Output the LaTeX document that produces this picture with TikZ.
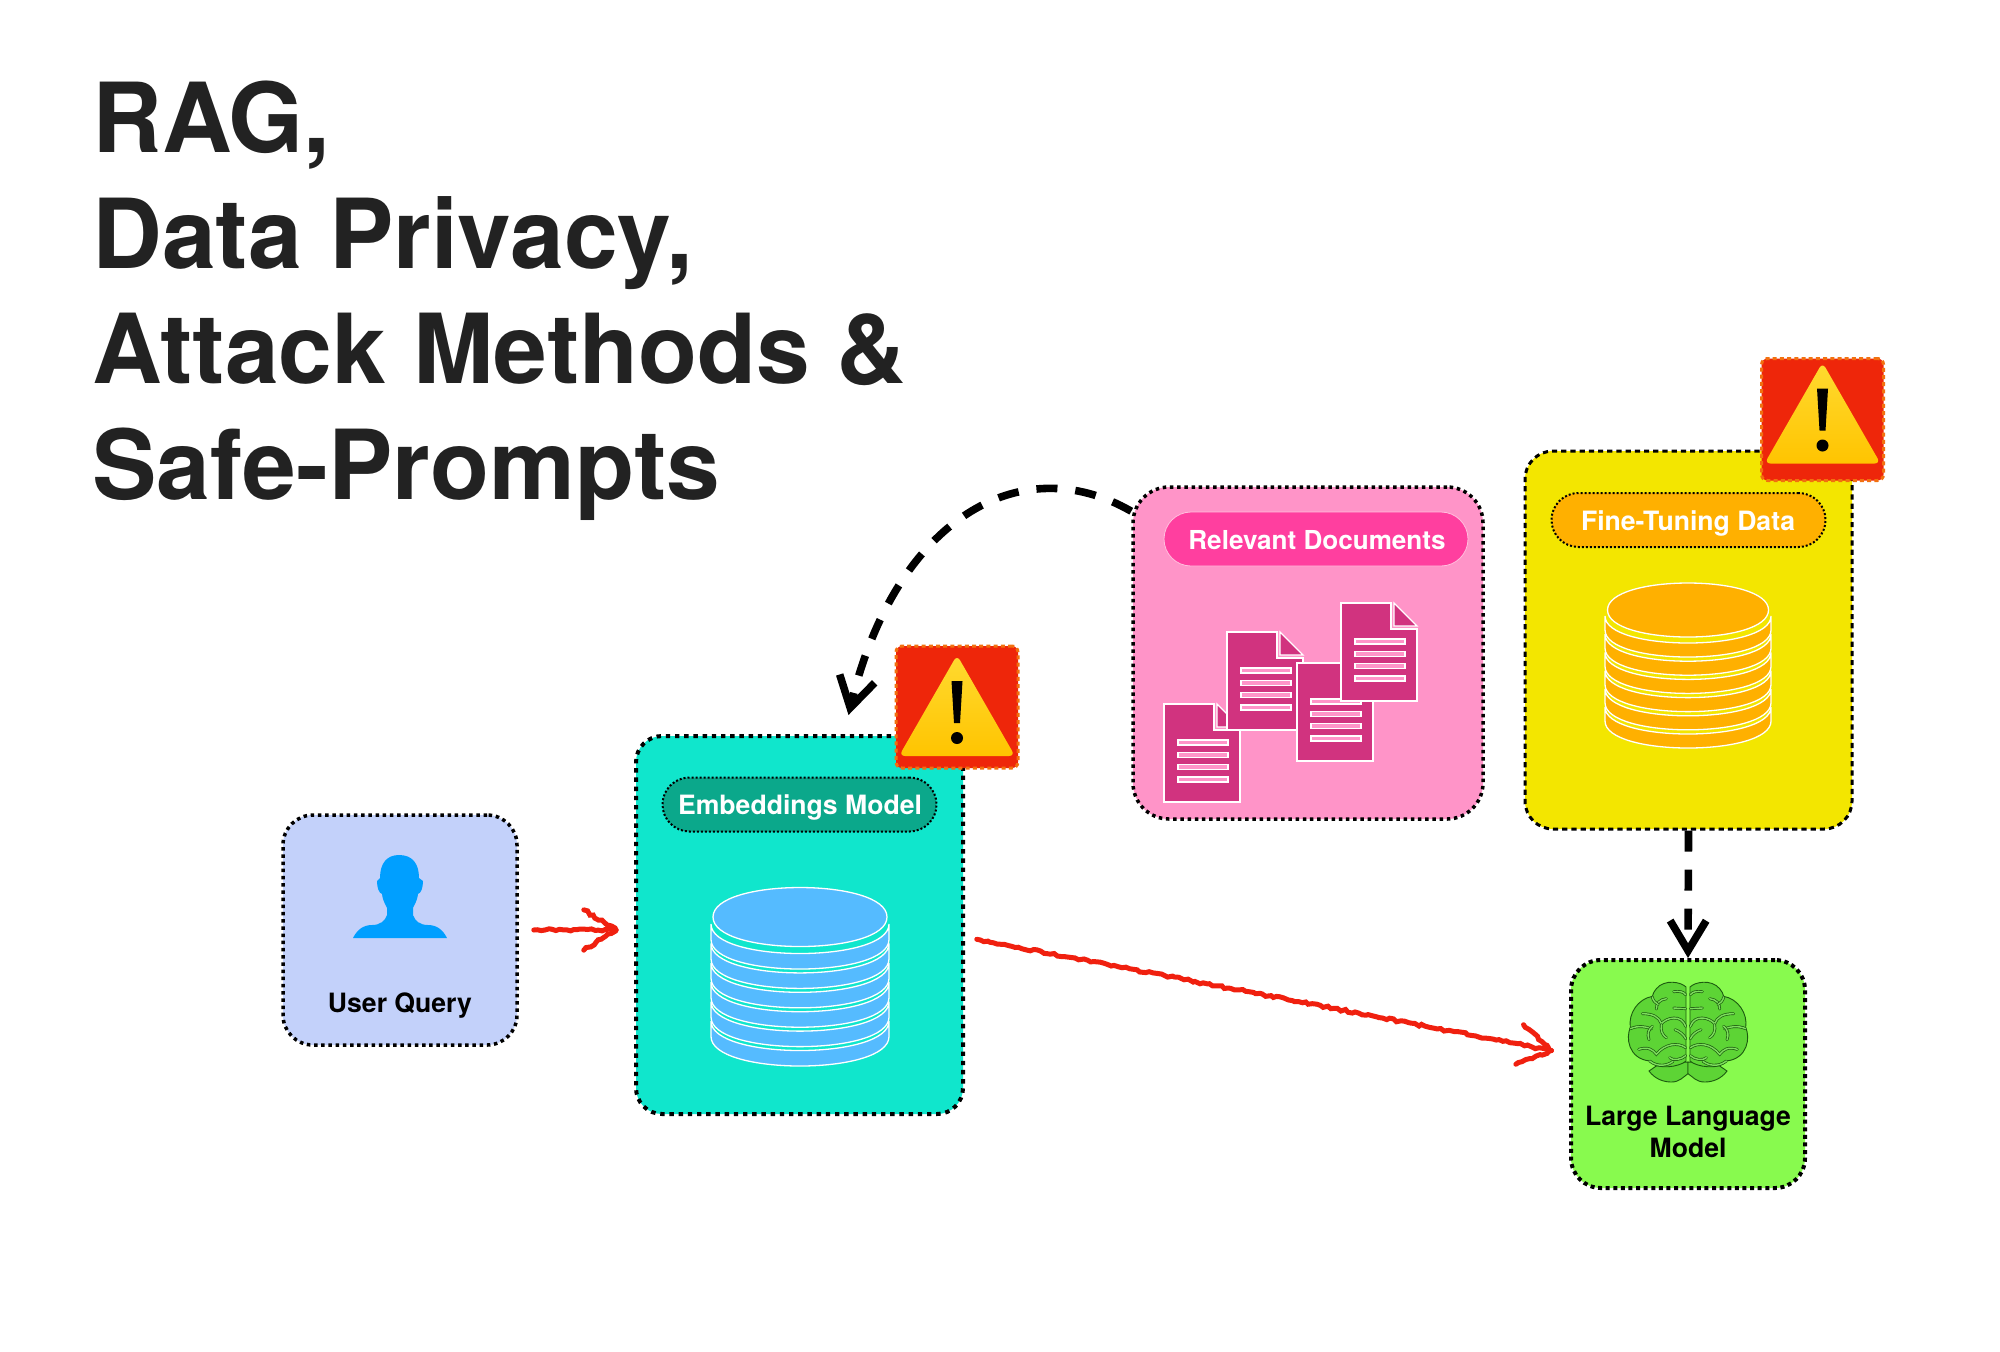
\documentclass[tikz,border=0pt]{standalone}
\usepackage{fontspec}
\setmainfont{TeX Gyre Heros}
\usetikzlibrary{arrows.meta,decorations.pathmorphing,calc}
\definecolor{inkc}{HTML}{222222}
\definecolor{userc}{HTML}{C3D1FA}
\definecolor{personc}{HTML}{009FFF}
\definecolor{embc}{HTML}{10E6CC}
\definecolor{embpill}{HTML}{0BA88B}
\definecolor{dbblue}{HTML}{55BBFF}
\definecolor{relc}{HTML}{FF94C8}
\definecolor{relpill}{HTML}{FF3F9F}
\definecolor{docc}{HTML}{D1337F}
\definecolor{yelc}{HTML}{F3E600}
\definecolor{orgc}{HTML}{FFB000}
\definecolor{llmc}{HTML}{88FA4E}
\definecolor{brainc}{HTML}{5DD435}
\definecolor{braind}{HTML}{1C5A10}
\definecolor{warnc}{HTML}{EE260A}
\definecolor{warnedge}{HTML}{F2700F}
\definecolor{warntop}{HTML}{FFDA30}
\definecolor{warnbot}{HTML}{FFC400}
\definecolor{arrred}{HTML}{F0200F}
\tikzset{
  x=0.5pt,y=-0.5pt,
  panel/.style={draw=black,line cap=butt,inner sep=0pt,rounded corners=14pt},
  dotfine/.style={panel,line width=1.75pt,dash pattern=on 1.75pt off 1.85pt},
  dotwide/.style={panel,line width=2pt,dash pattern=on 2.2pt off 2.4pt,rounded corners=13pt},
  dashfine/.style={panel,line width=1.5pt,dash pattern=on 2.6pt off 2pt},
  pillbox/.style={inner sep=0pt,rounded corners=13.5pt,minimum width=137pt,minimum height=27pt},
  pilldots/.style={pillbox,draw=black,line width=1pt,dash pattern=on 1pt off 1pt},
  pilltext/.style={anchor=base,inner sep=0pt,text=white,font=\fontsize{13.3}{16}\selectfont\bfseries},
  boxtext/.style={anchor=base,inner sep=0pt,text=black,align=center,font=\fontsize{13.3}{16}\selectfont\bfseries},
  warnbox/.style={fill=warnc,draw=warnedge,line width=1.5pt,dash pattern=on 2pt off 1.6pt,rounded corners=3pt,minimum width=61pt,minimum height=61pt,inner sep=0pt},
  blackflow/.style={draw=black,line width=3.8pt,line cap=butt,dash pattern=on 10.5pt off 9pt,
     -{Straight Barb[length=15pt,width=18pt,line width=3.8pt]}},
  redflow/.style={draw=arrred,line width=2.5pt,line cap=round,
     decorate,decoration={random steps,segment length=1.8pt,amplitude=.6pt}},
  sulcus/.style={draw=braind,line width=.35pt,double=brainc!80!white,double distance=.7pt,line cap=round},
}
\newcommand{\redarrow}[2]{%
  \draw[redflow] (#1) -- (#2);
  \draw[redflow] ($(#2)!19pt!32:(#1)$) -- (#2);
  \draw[redflow] ($(#2)!19pt!-32:(#1)$) -- (#2);
}
\newcommand{\dbstack}[9]{%
  \foreach \k in {5,4,3,2,1,0}{
    \pgfmathsetmacro{\cb}{#6+\k*#7-#4}
    \pgfmathsetmacro{\ct}{\cb-#8}
    \pgfmathsetmacro{\ar}{1.3333*#4}
    \path[fill=#9,draw=white,line width=.65pt]
      ({#1-#5},\ct) .. controls ({#1-#5},{\ct+\ar}) and ({#1+#5},{\ct+\ar}) .. ({#1+#5},\ct)
      -- ({#1+#5},\cb) .. controls ({#1+#5},{\cb+\ar}) and ({#1-#5},{\cb+\ar}) .. ({#1-#5},\cb) -- cycle;
  }
  \pgfmathsetmacro{\ar}{1.3333*#4}
  \path[fill=#9,draw=white,line width=.65pt]
    ({#1-#3},#2) .. controls ({#1-#3},{#2+\ar}) and ({#1+#3},{#2+\ar}) .. ({#1+#3},#2)
    .. controls ({#1+#3},{#2-\ar}) and ({#1-#3},{#2-\ar}) .. ({#1-#3},#2) -- cycle;
}
\newcommand{\docicon}[2]{%
  \begin{scope}[shift={(#1,#2)}]
    \path[fill=docc,draw=white,line width=.65pt] (0,0) -- (50,0) -- (50,26) -- (76,26) -- (76,98) -- (0,98) -- cycle;
    \path[fill=docc,draw=white,line width=.65pt] (53,0) -- (76,23) -- (53,23) -- cycle;
    \foreach \yy in {36,48.5,60.5,73}
      \path[fill=relc,draw=white,line width=.8pt] (14,\yy) rectangle (64,{\yy+5});
  \end{scope}
}
\newcommand{\warnicon}[4]{%
  \node[warnbox] (#1) at (#2,#3) {};
  \begin{scope}[shift={(#2,{#3+#4})}]
    \path[top color=warntop,bottom color=warnbot,rounded corners=3pt]
      (0,-52) -- (58,49) -- (-58,49) -- cycle;
    \fill[black] (-5.5,-26) -- (5.5,-26) -- (3,16) -- (-3,16) -- cycle;
    \fill[black] (0,31) circle[radius=3pt];
  \end{scope}
}
\begin{document}
\begin{tikzpicture}
\useasboundingbox (0,0) rectangle (2000,1351);
\pgfmathsetseed{7}

\node[anchor=base west,inner sep=0pt,align=left,text=inkc,
  font=\fontsize{48.3}{57.7}\selectfont\bfseries] (title) at (92,499)
  {RAG,\\Data Privacy,\\Attack Methods \&\\Safe-Prompts};

% ---- user query
\node[dotfine,fill=userc,minimum width=117pt,minimum height=115pt,rounded corners=15pt] (user) at (400,930) {};
\fill[personc] (399,855)
  .. controls (412,855) and (419,863) .. (419,878)
  -- (423,881) .. controls (423,888) and (421,893) .. (418,894)
  .. controls (417,902) and (414,905) .. (413,908)
  -- (413,915) .. controls (415,921) and (420,925) .. (428,925)
  .. controls (437,925) and (443,930) .. (447,938)
  -- (353,938) .. controls (357,930) and (363,925) .. (372,925)
  .. controls (380,925) and (385,921) .. (387,915)
  -- (387,908) .. controls (386,905) and (383,902) .. (382,894)
  .. controls (379,893) and (377,888) .. (377,881)
  -- (380,878) .. controls (380,863) and (387,855) .. (399,855) -- cycle;
\node[boxtext] (userlabel) at (400,1012) {User Query};

% ---- embeddings
\node[dotwide,fill=embc,minimum width=163.5pt,minimum height=189pt] (emb) at (799.5,925) {};
\node[pilldots,fill=embpill] (embpillnode) at (799.5,804.5) {};
\node[pilltext] (emblabel) at (800,814) {Embeddings Model};
\dbstack{800}{917}{87}{29.5}{89}{969}{19.4}{15.5}{dbblue}

% ---- relevant documents
\node[dotfine,fill=relc,minimum width=175pt,minimum height=166pt,rounded corners=18pt] (rel) at (1308,653) {};
\node[pillbox,fill=relpill,draw=relc!60!white,line width=.4pt,minimum width=152pt] (relpillnode) at (1316,539) {};
\node[pilltext,font=\fontsize{13.05}{16}\selectfont\bfseries] (rellabel) at (1317,549) {Relevant Documents};
\docicon{1164}{704}
\docicon{1227}{632}
\docicon{1297}{663}
\docicon{1341}{603}

% ---- fine tuning data
\node[dashfine,fill=yelc,minimum width=163.5pt,minimum height=189pt] (yel) at (1688.5,640) {};
\node[pilldots,fill=orgc] (yelpillnode) at (1688.5,520) {};
\node[pilltext] (yellabel) at (1688,530) {Fine-Tuning Data};
\dbstack{1688}{610}{80.5}{27}{83}{657}{18.2}{14}{orgc}

% ---- large language model
\node[dotwide,fill=llmc,minimum width=117pt,minimum height=114pt,dash pattern=on 2pt off 1.8pt,rounded corners=15pt] (llm) at (1688,1074) {};
\foreach \s in {1,-1}{
  \begin{scope}[shift={(1688,982)},xscale=\s/3,yscale=1/3,shift={(-445,-155)}]
    \path[fill=brainc,draw=braind,line width=.45pt]
      (328,422) .. controls (345,445) and (370,455) .. (395,455)
      .. controls (420,455) and (430,440) .. (445,430)
      -- (445,395) -- (360,400) -- cycle;
    \path[fill=brainc,draw=braind,line width=.45pt]
      (439,170) .. controls (425,155) and (375,145) .. (350,175)
      .. controls (343,183) and (340,190) .. (338,198)
      .. controls (295,205) and (265,250) .. (272,292)
      .. controls (258,320) and (265,385) .. (330,392)
      .. controls (350,420) and (420,410) .. (439,392) -- cycle;
    \draw[sulcus] (438,193) .. controls (430,183) and (418,182) .. (402,184);
    \draw[sulcus] (380,205) .. controls (360,208) and (350,218) .. (350,236);
    \draw[sulcus] (338,200) .. controls (340,212) and (348,218) .. (355,222);
    \draw[sulcus] (402,233) -- (438,235);
    \draw[sulcus] (308,250) .. controls (340,250) and (358,260) .. (365,280)
      .. controls (380,262) and (425,250) .. (438,288);
    \draw[sulcus] (272,295) .. controls (295,285) and (320,288) .. (335,296);
    \draw[sulcus] (338,288) .. controls (325,298) and (322,312) .. (328,328);
    \draw[sulcus] (365,283) .. controls (362,300) and (368,315) .. (380,322);
    \draw[sulcus] (406,298) .. controls (420,303) and (432,312) .. (438,325);
    \draw[sulcus] (297,357) .. controls (325,348) and (340,358) .. (350,372)
      .. controls (375,340) and (415,335) .. (438,352);
    \draw[sulcus] (390,382) .. controls (400,392) and (425,388) .. (438,376);
    \draw[sulcus] (330,392) .. controls (355,412) and (385,405) .. (400,393);
  \end{scope}
}
\node[boxtext] (llmlabel) at (1688,1157) {Large Language\\Model};

% ---- warnings
\warnicon{warna}{957}{707}{0}
\warnicon{warnb}{1822.5}{419.5}{-5}

% ---- connectors
\coordinate (ua) at ($(user.east |- 0,930)!7.5pt!(emb.west |- 0,930)$);
\coordinate (ub) at ($(emb.west |- 0,930)!9pt!(user.east |- 0,930)$);
\redarrow{ua}{ub}
\coordinate (ea) at ($([yshift=-6pt]emb.east)!6pt!([yshift=10pt]llm.west)$);
\coordinate (eb) at ($([yshift=10pt]llm.west)!9pt!([yshift=-6pt]emb.east)$);
\redarrow{ea}{eb}
\draw[blackflow] ([yshift=-13pt]rel.north west) .. controls (1020,447) and (895,520) .. ([shift={(24.5pt,9.5pt)}]emb.north);
\draw[blackflow] (yel.south) -- (llm.north);
\end{tikzpicture}
\end{document}
